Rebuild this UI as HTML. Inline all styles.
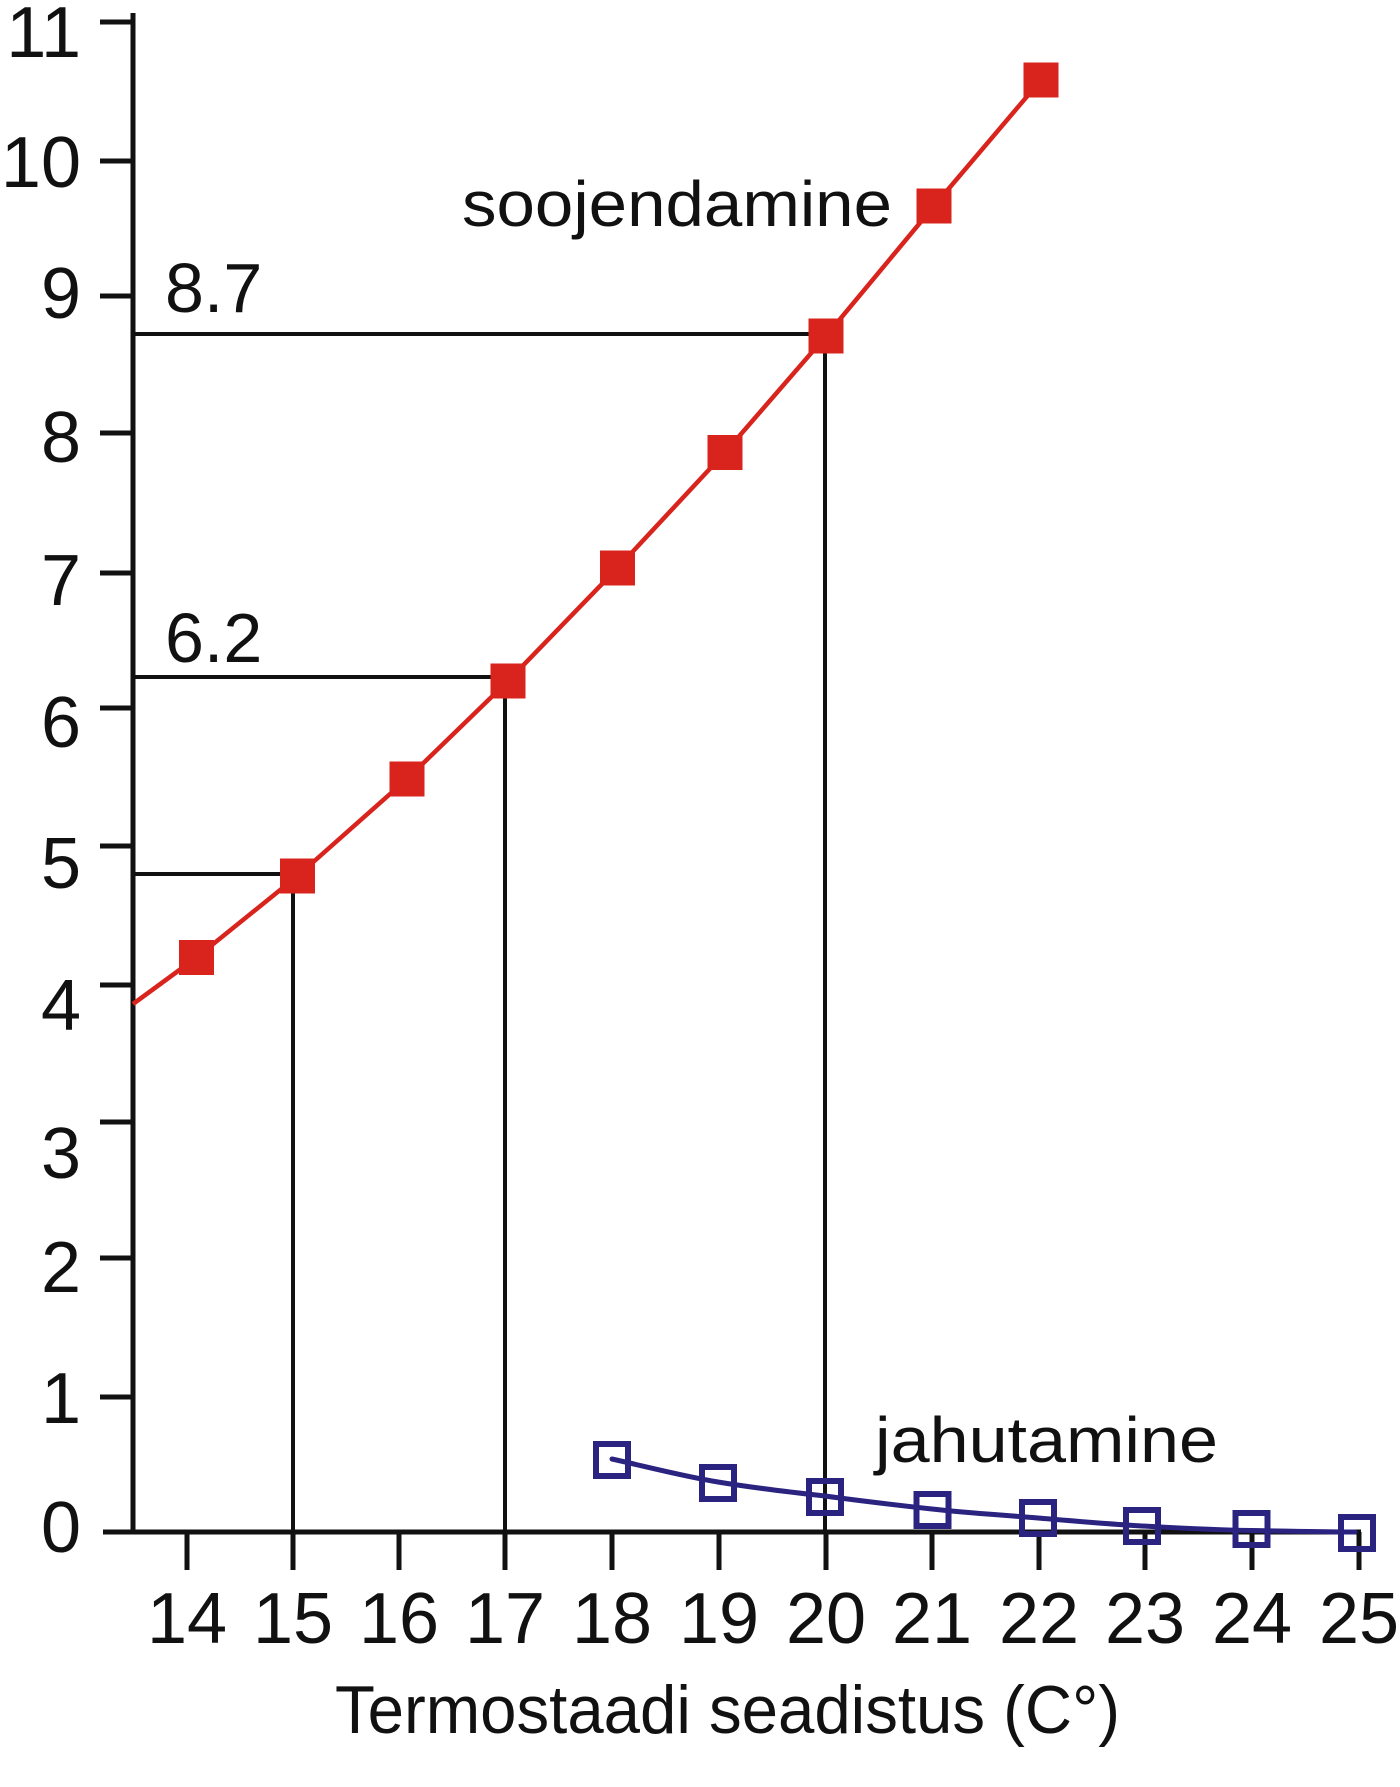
<!DOCTYPE html>
<html>
<head>
<meta charset="utf-8">
<style>
  html,body{margin:0;padding:0;background:#fff;}
  svg{display:block;}
  text{font-family:"Liberation Sans",Arial,sans-serif;fill:#111;}
</style>
</head>
<body>
<svg width="1400" height="1787" viewBox="0 0 1400 1787" xmlns="http://www.w3.org/2000/svg">
  <rect width="1400" height="1787" fill="#fff"/>

  <!-- Axes -->
  <g stroke="#111" stroke-width="5" fill="none">
    <line x1="133" y1="13" x2="133" y2="1534"/>
    <line x1="103" y1="1532" x2="1361" y2="1532"/>
    <!-- y ticks -->
    <line x1="100" y1="22" x2="133" y2="22"/>
    <line x1="100" y1="161" x2="133" y2="161"/>
    <line x1="100" y1="296" x2="133" y2="296"/>
    <line x1="100" y1="433" x2="133" y2="433"/>
    <line x1="100" y1="573" x2="133" y2="573"/>
    <line x1="100" y1="708" x2="133" y2="708"/>
    <line x1="100" y1="846" x2="133" y2="846"/>
    <line x1="100" y1="985" x2="133" y2="985"/>
    <line x1="100" y1="1122" x2="133" y2="1122"/>
    <line x1="100" y1="1258" x2="133" y2="1258"/>
    <line x1="100" y1="1397" x2="133" y2="1397"/>
    <!-- x ticks -->
    <line x1="187" y1="1532" x2="187" y2="1570"/>
    <line x1="293" y1="1532" x2="293" y2="1570"/>
    <line x1="399" y1="1532" x2="399" y2="1570"/>
    <line x1="505" y1="1532" x2="505" y2="1570"/>
    <line x1="612" y1="1532" x2="612" y2="1570"/>
    <line x1="719" y1="1532" x2="719" y2="1570"/>
    <line x1="826" y1="1532" x2="826" y2="1570"/>
    <line x1="932" y1="1532" x2="932" y2="1570"/>
    <line x1="1039" y1="1532" x2="1039" y2="1570"/>
    <line x1="1145" y1="1532" x2="1145" y2="1570"/>
    <line x1="1252" y1="1532" x2="1252" y2="1570"/>
    <line x1="1359" y1="1532" x2="1359" y2="1570"/>
  </g>

  <!-- Reference lines -->
  <g stroke="#111" stroke-width="4" fill="none">
    <line x1="133" y1="334" x2="826" y2="334"/>
    <line x1="825" y1="334" x2="825" y2="1532"/>
    <line x1="133" y1="677" x2="508" y2="677"/>
    <line x1="505" y1="677" x2="505" y2="1532"/>
    <line x1="133" y1="874" x2="297" y2="874"/>
    <line x1="293" y1="874" x2="293" y2="1532"/>
  </g>

  <!-- Y labels -->
  <g font-size="72" text-anchor="end">
    <text x="81" y="57">11</text>
    <text x="81" y="187">10</text>
    <text x="81" y="318">9</text>
    <text x="81" y="462">8</text>
    <text x="81" y="605">7</text>
    <text x="81" y="747">6</text>
    <text x="81" y="888">5</text>
    <text x="81" y="1030">4</text>
    <text x="81" y="1178">3</text>
    <text x="81" y="1292">2</text>
    <text x="81" y="1423">1</text>
    <text x="81" y="1552">0</text>
  </g>

  <!-- X labels -->
  <g font-size="72" text-anchor="middle">
    <text x="187" y="1643">14</text>
    <text x="293" y="1643">15</text>
    <text x="399" y="1643">16</text>
    <text x="505" y="1643">17</text>
    <text x="612" y="1643">18</text>
    <text x="719" y="1643">19</text>
    <text x="826" y="1643">20</text>
    <text x="932" y="1643">21</text>
    <text x="1039" y="1643">22</text>
    <text x="1145" y="1643">23</text>
    <text x="1252" y="1643">24</text>
    <text x="1359" y="1643">25</text>
  </g>

  <!-- Value labels -->
  <text x="165" y="312" font-size="70">8.7</text>
  <text x="165" y="662" font-size="70">6.2</text>

  <!-- Red series -->
  <polyline fill="none" stroke="#d9241d" stroke-width="4.5" stroke-linejoin="round"
    points="133,1004 196.5,957.5 297.5,876 407,779 508,681 617.5,568 725,452.5 826,336 934,206 1041,80"/>
  <g fill="#d9241d">
    <rect x="179" y="940" width="35" height="35"/>
    <rect x="280" y="858.5" width="35" height="35"/>
    <rect x="389.5" y="761.5" width="35" height="35"/>
    <rect x="490.5" y="663.5" width="35" height="35"/>
    <rect x="600" y="550.5" width="35" height="35"/>
    <rect x="707.5" y="435" width="35" height="35"/>
    <rect x="808.5" y="318.5" width="35" height="35"/>
    <rect x="916.5" y="188.5" width="35" height="35"/>
    <rect x="1023.5" y="62.5" width="35" height="35"/>
  </g>

  <!-- Blue series -->
  <path fill="none" stroke="#2b2380" stroke-width="5" stroke-linecap="round"
    d="M612,1459 C648,1467 682,1476 718,1482 C754,1488 789,1492 825,1496 C861,1501 896,1505 932,1509 C967,1513 1003,1515 1038,1518 C1073,1521 1107,1524 1142,1526 C1178,1528 1215,1530 1251,1530.5 C1286,1531 1321,1532 1355,1532"/>
  <g fill="none" stroke="#2b2380" stroke-width="6">
    <rect x="596" y="1444" width="32" height="32"/>
    <rect x="702" y="1467" width="32" height="32"/>
    <rect x="809" y="1481" width="32" height="32"/>
    <rect x="916.5" y="1494" width="32" height="32"/>
    <rect x="1022" y="1502" width="32" height="32"/>
    <rect x="1126" y="1510" width="32" height="32"/>
    <rect x="1235.5" y="1513" width="32" height="32"/>
    <rect x="1341" y="1517" width="32" height="32"/>
  </g>

  <!-- Series labels -->
  <text x="462" y="226" font-size="64" textLength="430" lengthAdjust="spacingAndGlyphs">soojendamine</text>
  <text x="875" y="1462" font-size="64" textLength="343" lengthAdjust="spacingAndGlyphs">jahutamine</text>

  <!-- Axis title -->
  <text x="335" y="1733" font-size="68" textLength="785" lengthAdjust="spacingAndGlyphs">Termostaadi seadistus (C°)</text>
</svg>
</body>
</html>
